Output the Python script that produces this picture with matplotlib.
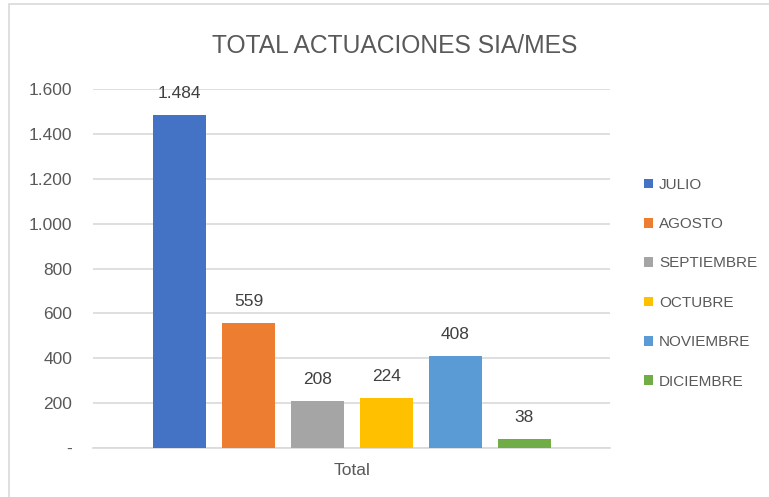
import matplotlib.pyplot as plt
from matplotlib.patches import Rectangle

plt.rcParams['font.family'] = ['Liberation Sans', 'DejaVu Sans']

# data
months = ['JULIO', 'AGOSTO', 'SEPTIEMBRE', 'OCTUBRE', 'NOVIEMBRE', 'DICIEMBRE']
values = [1484, 559, 208, 224, 408, 38]
colors = ['#4472C4', '#ED7D31', '#A5A5A5', '#FFC000', '#5B9BD5', '#70AD47']
yticks = [0, 200, 400, 600, 800, 1000, 1200, 1400, 1600]
text_color = '#595959'


def fmt(v):
    # Spanish thousands separator, zero shown as a dash
    if v == 0:
        return '-'
    return f'{v:,}'.replace(',', '.')


fig = plt.figure(figsize=(7.69, 4.97), dpi=100)
ax = fig.add_axes([0.1209, 0.0986, 0.6723, 0.7223])

# outer chart border
fig.patches.append(Rectangle((9 / 769, -0.01), 1.0, 1 - 4 / 497 + 0.01,
                             transform=fig.transFigure, fill=False,
                             edgecolor='#d9d9d9', linewidth=1.2))

bars = []
for i, (m, v, c) in enumerate(zip(months, values, colors)):
    b = ax.bar(i, v, width=0.768, color=c, label=m, zorder=3)
    bars.append(b)
    ax.annotate(fmt(v), xy=(i, v), xytext=(0, 14), textcoords='offset pixels',
                ha='center', va='bottom', fontsize=12.5, color='#404040')

ax.set_xlim(-1.254, 6.239)
ax.set_ylim(0, 1600)
ax.set_yticks(yticks)
ax.set_yticklabels([fmt(t) for t in yticks])
ax.yaxis.grid(True, color='#d9d9d9', linewidth=1.2, zorder=0)
ax.set_axisbelow(True)
ax.tick_params(axis='y', length=0, pad=15, labelsize=12.5, labelcolor=text_color)
ax.set_xticks([2.5])
ax.set_xticklabels(['Total'])
ax.tick_params(axis='x', length=0, pad=11, labelsize=12.5, labelcolor=text_color)
for side in ['top', 'right', 'left']:
    ax.spines[side].set_visible(False)
ax.spines['bottom'].set_color('#d9d9d9')
ax.spines['bottom'].set_linewidth(1.2)

fig.text(395 / 769, 1 - 46 / 497, 'TOTAL ACTUACIONES SIA/MES', ha='center',
         va='center', fontsize=17.7, color=text_color)

fig.legend(handles=[b[0] for b in bars], labels=months, loc='upper left',
           bbox_to_anchor=(630 / 769, 1 - 164 / 497), frameon=False,
           fontsize=11, labelcolor=text_color, handlelength=0.6,
           handleheight=0.6, handletextpad=0.4, labelspacing=1.66)

fig.savefig('out.png', dpi=100)
